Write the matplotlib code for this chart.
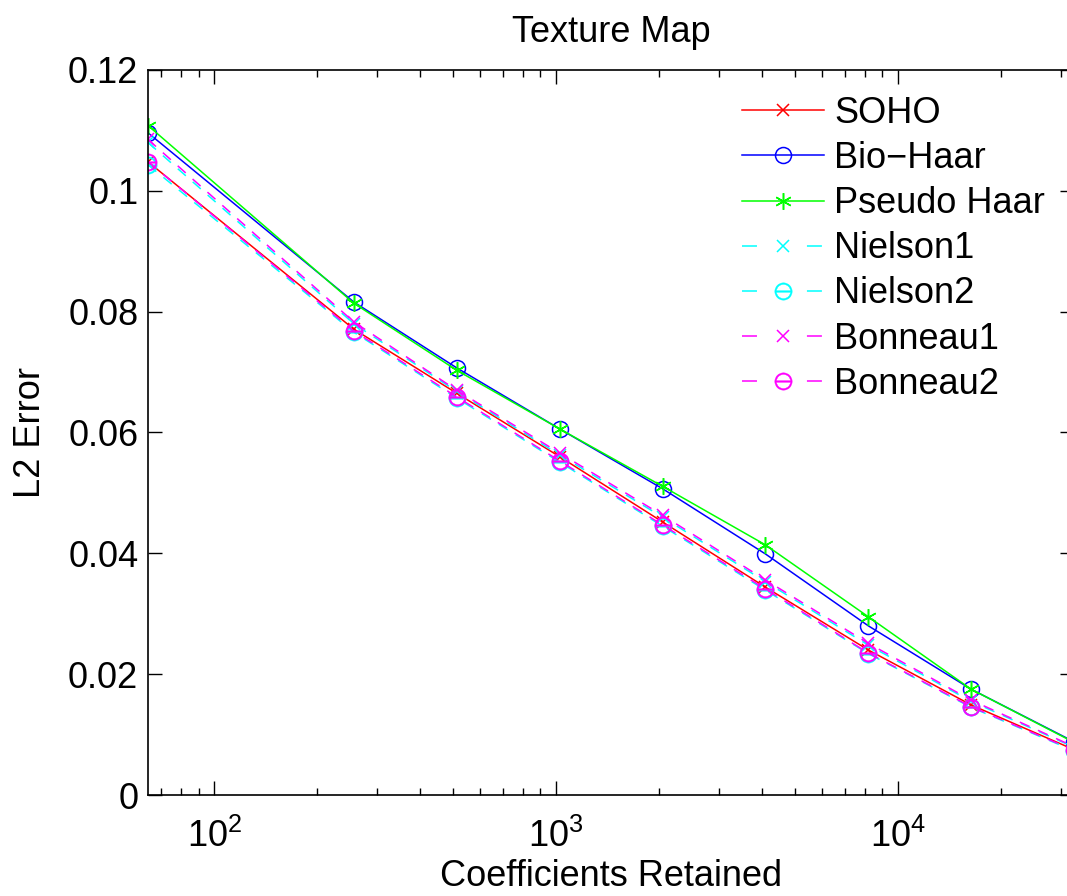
import numpy as np
from matplotlib import pyplot as plt
from matplotlib.ticker import FuncFormatter, LogLocator

plt.rcParams['font.family'] = ['Liberation Sans', 'DejaVu Sans']
plt.rcParams['mathtext.fontset'] = 'custom'
plt.rcParams['mathtext.rm'] = 'Liberation Sans'
plt.rcParams['mathtext.it'] = 'Liberation Sans'

# coefficients retained (2^6 .. 2^15)
coeffs = [64, 256, 512, 1024, 2048, 4096, 8192, 16384, 32768]

soho      = [0.1048, 0.0771, 0.0665, 0.0560, 0.0452, 0.0344, 0.0240, 0.0149, 0.0075]
bio_haar  = [0.1096, 0.0816, 0.0707, 0.0606, 0.0507, 0.0399, 0.0280, 0.0175, 0.0088]
pseudo    = [0.1108, 0.0814, 0.0703, 0.0606, 0.0511, 0.0414, 0.0295, 0.0175, 0.0087]
nielson1  = [0.1080, 0.0780, 0.0668, 0.0563, 0.0460, 0.0353, 0.0248, 0.0155, 0.0079]
nielson2  = [0.1043, 0.0766, 0.0657, 0.0551, 0.0445, 0.0339, 0.0234, 0.0145, 0.0073]
bonneau1  = [0.1085, 0.0783, 0.0670, 0.0566, 0.0463, 0.0356, 0.0251, 0.0157, 0.0080]
bonneau2  = [0.1048, 0.0768, 0.0659, 0.0553, 0.0447, 0.0341, 0.0235, 0.0146, 0.0074]

yticks = [0, 0.02, 0.04, 0.06, 0.08, 0.1, 0.12]

fs = 26
fig = plt.figure(figsize=(10.67, 8.96), dpi=100)
ax = fig.add_axes([0.1387, 0.1127, 0.868, 0.8092])

lw = 1.1
dash = (7, 6)
ax.plot(coeffs, soho, '-', color='#ff0000', marker='x', ms=9, mew=1.1, lw=lw, label='SOHO')
ax.plot(coeffs, bio_haar, '-', color='#0000ff', marker='o', ms=11.5, mfc='none', mew=1.1, lw=lw, label='Bio\u2212Haar')
ax.plot(coeffs, pseudo, '-', color='#00ff00', marker=(6, 2, 0), ms=12, mew=1.1, lw=lw, label='Pseudo Haar')
ax.plot(coeffs, nielson1, '--', color='#00ffff', marker='x', ms=9, mew=1.1, lw=lw, dashes=dash, label='Nielson1')
ax.plot(coeffs, nielson2, '--', color='#00ffff', marker='$\u2296$', ms=12.5, mew=0.3, lw=lw, dashes=dash, label='Nielson2')
ax.plot(coeffs, bonneau1, '--', color='#ff00ff', marker='x', ms=9, mew=1.1, lw=lw, dashes=dash, label='Bonneau1')
ax.plot(coeffs, bonneau2, '--', color='#ff00ff', marker='$\u2296$', ms=12.5, mew=0.3, lw=lw, dashes=dash, label='Bonneau2')

ax.set_xscale('log')
ax.set_xlim(64, 32768)
ax.set_ylim(0, 0.12)
ax.set_yticks(yticks)
ax.yaxis.set_major_formatter(FuncFormatter(lambda v, p: '%g' % v))
ax.xaxis.set_major_locator(LogLocator(base=10))
ax.xaxis.set_minor_locator(LogLocator(base=10, subs=np.arange(2, 10)))

ax.tick_params(which='both', direction='in', top=True, right=True, labelsize=fs, width=1.0)
ax.tick_params(which='major', length=10)
ax.tick_params(axis='x', which='major', pad=17)
ax.tick_params(axis='y', which='major', pad=7)
ax.tick_params(which='minor', length=5)
for s in ax.spines.values():
    s.set_linewidth(1.2)

ax.set_title('Texture Map', fontsize=fs, pad=20)
ax.set_xlabel('Coefficients Retained', fontsize=fs, labelpad=3)
ax.set_ylabel('L2 Error', fontsize=fs, labelpad=14)

leg = ax.legend(loc='upper left', bbox_to_anchor=(742 / 1067, 1 - 96 / 896), bbox_transform=fig.transFigure,
                frameon=False, fontsize=fs, handlelength=2.27, labelspacing=0.28, handletextpad=0.28,
                borderaxespad=0, borderpad=0)
# matlab-style legend dashes: one dash each side of the marker
for ln in leg.get_lines()[3:]:
    ln.set_dashes((9.8, 32.7))

fig.savefig('out.png', dpi=100)
